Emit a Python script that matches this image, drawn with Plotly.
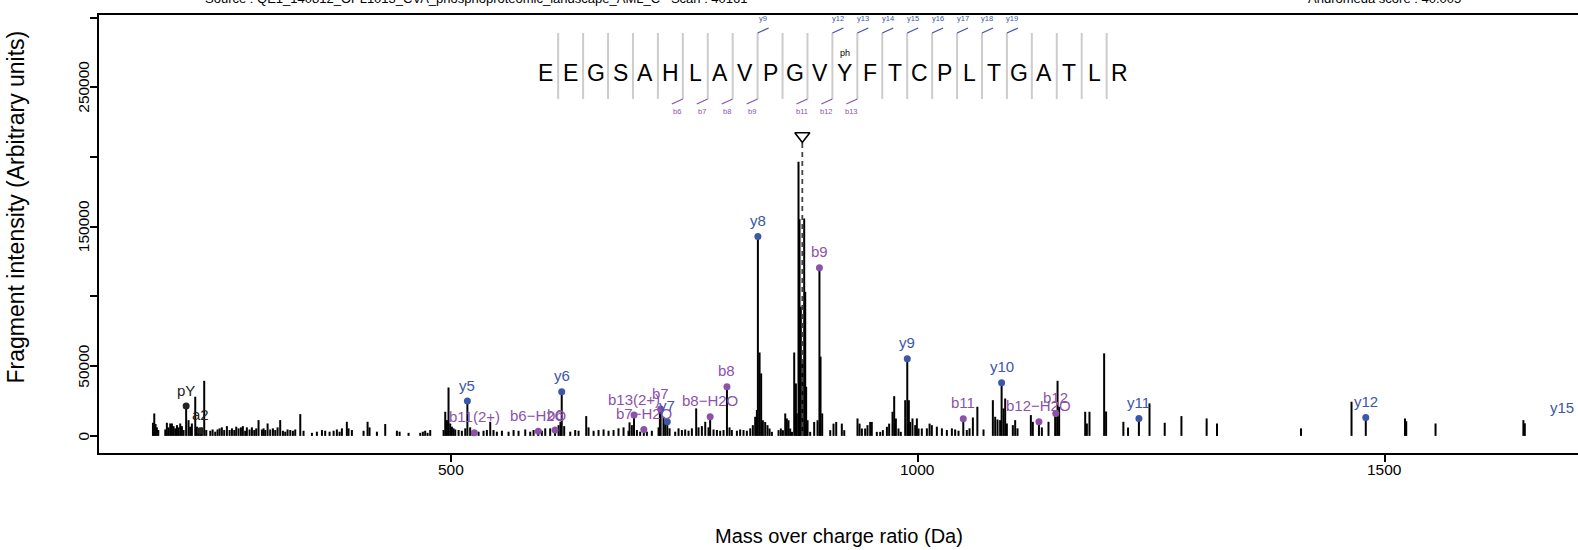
import plotly.graph_objects as go

# ------------------------------------------------------------------ data
MZ = [
    180.5, 181.9, 183.3, 184.7, 186.2, 193.7, 195.4, 197.2, 199.0, 200.8,
    202.6, 204.4, 206.2, 207.9, 209.7, 211.5, 213.3, 216.04, 218.6, 220.4,
    222.2, 225.8, 227.6, 229.4, 231.10, 232.9, 235.4, 237.6, 241.9, 244.4,
    247.2, 249.7, 251.9, 254.3, 256.8, 259.7, 262.6, 265.1, 267.6, 269.7,
    272.2, 274.7, 276.8, 279.3, 281.1, 284.0, 286.5, 289.0, 291.1, 293.6,
    297.2, 299.0, 300.8, 303.3, 306.1, 309.0, 311.5, 314.0, 316.8, 319.7,
    322.2, 324.7, 327.6, 330.4, 332.9, 338.3, 341.8, 350.8, 356.1, 361.5,
    365.0, 369.7, 374.0, 377.5, 380.4, 382.9, 388.2, 390.0, 393.6, 406.1,
    410.4, 412.5, 420.4, 429.3, 441.8, 444.7, 454.3, 466.8, 469.6, 472.1,
    474.7, 477.5, 491.8, 493.6, 495.4, 497.1, 498.9, 500.7, 502.5, 504.3,
    507.9, 511.4, 515.0, 517.31, 520.3, 523.0, 524.76, 529.3, 534.6, 538.2,
    541.8, 545.3, 548.9, 554.3, 561.4, 566.8, 572.1, 579.3, 584.6, 588.2,
    593.23, 597.1, 600.7, 606.0, 611.24, 615.0, 617.0, 618.36, 621.0, 627.5,
    632.8, 636.4, 644.6, 647.1, 652.5, 657.8, 663.2, 668.5, 673.9, 679.2,
    684.6, 689.9, 691.0, 693.5, 695.81, 698.9, 702.4, 706.31, 709.6, 714.9,
    722.1, 723.5, 724.33, 727.4, 729.2, 731.44, 733.9, 739.9, 743.5, 747.1,
    750.6, 754.2, 757.8, 762.4, 764.9, 768.5, 772.1, 775.6, 777.35, 781.0,
    784.6, 788.1, 791.7, 795.36, 798.1, 800.6, 806.0, 809.5, 813.1, 816.7,
    820.3, 823.1, 825.6, 827.4, 828.49, 830.3, 832.0, 833.8, 836.3, 838.8,
    841.0, 843.5, 850.6, 853.1, 855.3, 857.8, 859.5, 861.3, 863.1, 865.0,
    867.4, 869.2, 870.2, 872.0, 873.1, 874.5, 876.3, 878.1, 879.2, 880.2,
    881.7, 884.5, 888.8, 892.4, 894.43, 895.6, 897.4, 906.0, 909.5, 912.4,
    918.4, 921.0, 935.2, 937.4, 939.9, 943.4, 945.9, 948.8, 950.5, 955.9,
    959.5, 962.4, 966.7, 969.1, 972.7, 974.5, 976.3, 979.1, 981.6, 986.3,
    988.52, 990.2, 991.6, 994.1, 997.0, 998.8, 1000.6, 1004.1, 1009.5, 1012.4,
    1014.8, 1020.2, 1025.6, 1030.9, 1036.3, 1039.8, 1043.4, 1048.51, 1052.3, 1055.2,
    1058.8, 1063.6, 1070.2, 1080.2, 1082.7, 1085.2, 1088.0, 1089.57, 1091.6, 1093.4,
    1095.2, 1101.6, 1104.1, 1106.6, 1120.9, 1123.0, 1129.56, 1132.7, 1139.8, 1147.0,
    1147.57, 1149.5, 1151.2, 1179.1, 1180.9, 1183.7, 1199.4, 1201.5, 1220.0, 1225.0,
    1236.64, 1248.0, 1264.3, 1282.2, 1309.2, 1320.3, 1410.3, 1464.4, 1479.67, 1521.7,
    1523.0, 1554.4, 1648.5, 1650.0,
]
INTENSITY = [
    9400, 16100, 8500, 6100, 4200, 4600, 9400, 6100, 8900, 8900,
    7000, 5400, 7700, 6100, 8900, 7000, 4200, 21400, 11300, 6600,
    8900, 28100, 6600, 5400, 3700, 6100, 39500, 4200, 3700, 4600,
    3000, 4600, 5400, 6100, 4200, 7000, 4200, 5400, 4200, 6600,
    5400, 6100, 7000, 3700, 6100, 4600, 6100, 4200, 5400, 11300,
    4600, 5400, 4200, 8900, 4600, 5400, 4200, 6100, 11300, 3700,
    3000, 4600, 4200, 3700, 4600, 15600, 3700, 2200, 3000, 4200,
    3700, 3000, 3700, 4600, 3000, 5400, 10100, 5400, 4200, 3700,
    10100, 6100, 3000, 8500, 3700, 3000, 2200, 2200, 3000, 3700,
    2200, 4200, 4200, 17300, 11300, 34700, 8900, 6600, 5400, 4600,
    4200, 3700, 5400, 25000, 6100, 3000, 2200, 3000, 3700, 4200,
    10100, 4200, 3000, 3700, 3000, 4200, 3700, 4600, 3000, 4200,
    3400, 3700, 5400, 5400, 4200, 7700, 10100, 31600, 7000, 3000,
    4200, 3700, 14200, 6100, 3700, 4200, 4600, 3700, 4200, 5400,
    6100, 3700, 9700, 7700, 14900, 4200, 3000, 4600, 3000, 3700,
    6100, 20900, 19200, 13700, 10100, 10100, 5400, 3000, 5400, 4200,
    4600, 3700, 5400, 19700, 6100, 7000, 10100, 6100, 13700, 4600,
    4200, 3700, 4200, 35300, 6100, 4200, 3700, 4600, 4200, 3700,
    5400, 7700, 13700, 18500, 143000, 59800, 44800, 11200, 10000, 7700,
    5300, 2900, 4100, 5300, 4100, 16100, 12500, 11200, 5300, 2900,
    59800, 37600, 16100, 196600, 155400, 92600, 54400, 155900, 103300, 35200,
    11200, 2900, 10000, 11200, 120500, 56800, 16100, 4100, 8800, 10000,
    8800, 4100, 12500, 8800, 5300, 5300, 7700, 10000, 10000, 2900,
    2900, 4100, 6500, 8800, 17300, 28500, 12500, 5300, 2900, 25600,
    55300, 25600, 10000, 12500, 7700, 12500, 5300, 5300, 5400, 8800,
    7700, 6600, 5400, 4200, 5400, 4600, 3700, 12300, 4200, 5400,
    13200, 20900, 4600, 25600, 13700, 11800, 11300, 38100, 19700, 26800,
    8900, 7700, 11300, 5400, 14900, 10100, 10100, 6100, 10100, 14900,
    16100, 39500, 20900, 17300, 8900, 17300, 59200, 17500, 10100, 6000,
    12500, 23300, 9400, 14200, 12500, 8900, 5400, 24500, 13200, 12500,
    10500, 8900, 11300, 9000,
]

ION_LABELS = ["pY", "a2", "y5", "b11(2+)", "b6\u2212H2O", "b6", "y6", "b13(2+)",
              "b7\u2212H2O", "b7", "y7", "b8\u2212H2O", "b8", "y8", "b9", "y9",
              "b11", "y10", "b12\u2212H2O", "b12", "y11", "y12", "y15"]
ION_MZ = [216.04, 231.10, 517.31, 524.76, 593.23, 611.24, 618.36, 695.81,
          706.31, 724.33, 731.44, 777.35, 795.36, 828.49, 894.43, 988.52,
          1048.51, 1089.57, 1129.56, 1147.57, 1236.64, 1479.67, 1732.81]
ION_INTENSITY = [21400, 3700, 25000, 2200, 3400, 4200, 31600, 14900,
                 4600, 19200, 10100, 13700, 35300, 143000, 120500, 55300,
                 12300, 38100, 10100, 16100, 12500, 13200, 8750]
ION_SERIES = ["other", "other", "y", "b", "b", "b", "y", "b",
              "b", "b", "y", "b", "b", "y", "b", "y",
              "b", "y", "b", "b", "y", "y", "y"]

PRECURSOR_MZ = 876.08

SEQUENCE = list("EEGSAHLAVPGVYFTCPLTGATLR")
PTM_SITE = 13
PTM_LABEL = "ph"
Y_MARK_SITES = [9, 12, 13, 14, 15, 16, 17, 18, 19]
B_MARK_SITES = [6, 7, 8, 9, 11, 12, 13]

X_TICKS = [500, 1000, 1500]
X_TICK_LABELS = ["500", "1000", "1500"]
Y_TICKS = [0, 50000, 100000, 150000, 200000, 250000, 300000]
Y_TICK_LABELS = ["0", "50000", "", "150000", "", "250000", ""]

TITLE_LEFT = "Source : QE1_140812_OPL1013_CVA_phosphoproteomic_landscape_AML_C   Scan : 40161"
TITLE_RIGHT = "Andromeda score : 40.005"
X_TITLE = "Mass over charge ratio (Da)"
Y_TITLE = "Fragment intensity (Arbitrary units)"

# ------------------------------------------------------------------ layout
W, H = 1578, 550
ML, MR, MT, MB = 99, 0, 15, 97
X_RANGE = [122.7, 1707.0]
Y_RANGE = [-12270, 301800]
FONT = "Liberation Sans, Arial, Helvetica, sans-serif"
BLUE = "#3b57a8"
PURPLE = "#8c52aa"
SERIES_COLOR = {"y": BLUE, "b": PURPLE, "other": "#222222"}
TICK_FONT = 15.5

PW = W - ML - MR
PH = H - MT - MB


def px_to_x(px):
    return X_RANGE[0] + (px - ML) / PW * (X_RANGE[1] - X_RANGE[0])


def py_to_y(py):
    return Y_RANGE[1] - (py - MT) / PH * (Y_RANGE[1] - Y_RANGE[0])


def paper_x(px):
    return (px - ML) / PW


def paper_y(py):
    return (H - MB - py) / PH


fig = go.Figure()

# spectrum sticks
sx, sy = [], []
for m, i in zip(MZ, INTENSITY):
    sx += [m, m, None]
    sy += [0, i, None]
fig.add_trace(go.Scatter(x=sx, y=sy, mode="lines",
                         line=dict(color="black", width=2), hoverinfo="skip"))

# precursor marker
TRI_Y_PX = 136
fig.add_trace(go.Scatter(x=[PRECURSOR_MZ, PRECURSOR_MZ], y=[0, py_to_y(TRI_Y_PX + 6)],
                         mode="lines", line=dict(color="#444444", width=1.8, dash="5px,4px"),
                         hoverinfo="skip"))
fig.add_trace(go.Scatter(x=[PRECURSOR_MZ], y=[py_to_y(TRI_Y_PX)], mode="markers",
                         marker=dict(symbol="triangle-down-open", size=13,
                                     color="black", line=dict(width=1.6, color="black")),
                         hoverinfo="skip"))

# annotated ions: dots
fig.add_trace(go.Scatter(x=ION_MZ, y=ION_INTENSITY, mode="markers",
                         marker=dict(size=7, color=[SERIES_COLOR[s] for s in ION_SERIES]),
                         hoverinfo="skip"))

annotations = []
x_label_max = X_RANGE[1] - 16 / PW * (X_RANGE[1] - X_RANGE[0])
for lab, m, i, s in zip(ION_LABELS, ION_MZ, ION_INTENSITY, ION_SERIES):
    annotations.append(dict(x=min(m, x_label_max), y=i, xref="x", yref="y", text=lab,
                            showarrow=False, yshift=16, yanchor="middle", xanchor="center",
                            font=dict(size=15, color=SERIES_COLOR[s], family=FONT)))

# peptide sequence decoration
SEQ_X0_PX = 545.7
SEQ_STEP_PX = 24.93
LETTER_Y_PX = 72.5
SEP_TOP_PX, SEP_BOT_PX = 33, 99
TICK_DX, TICK_DY = 11, 5
shapes = []
for k, aa in enumerate(SEQUENCE):
    cx = SEQ_X0_PX + k * SEQ_STEP_PX
    annotations.append(dict(x=px_to_x(cx), y=py_to_y(LETTER_Y_PX), xref="x", yref="y",
                            text=aa, showarrow=False, xanchor="center", yanchor="middle",
                            font=dict(size=23, color="black", family=FONT)))
    if k + 1 == PTM_SITE:
        annotations.append(dict(x=px_to_x(cx), y=py_to_y(53), xref="x", yref="y",
                                text=PTM_LABEL, showarrow=False, xanchor="center",
                                yanchor="middle", font=dict(size=9, color="black", family=FONT)))
for k in range(1, len(SEQUENCE)):
    sxp = SEQ_X0_PX + (k - 0.5) * SEQ_STEP_PX
    shapes.append(dict(type="line", xref="x", yref="y",
                       x0=px_to_x(sxp), x1=px_to_x(sxp),
                       y0=py_to_y(SEP_TOP_PX), y1=py_to_y(SEP_BOT_PX),
                       line=dict(color="#cccccc", width=2)))
for site in Y_MARK_SITES:
    sxp = SEQ_X0_PX + (site - 0.5) * SEQ_STEP_PX
    shapes.append(dict(type="line", xref="x", yref="y",
                       x0=px_to_x(sxp), x1=px_to_x(sxp + TICK_DX),
                       y0=py_to_y(SEP_TOP_PX), y1=py_to_y(SEP_TOP_PX - TICK_DY),
                       line=dict(color=BLUE, width=1.3)))
    annotations.append(dict(x=px_to_x(sxp + TICK_DX / 2), y=py_to_y(18), xref="x", yref="y",
                            text="y%d" % site, showarrow=False, xanchor="center",
                            yanchor="middle", font=dict(size=7.5, color=BLUE, family=FONT)))
for site in B_MARK_SITES:
    sxp = SEQ_X0_PX + (site - 0.5) * SEQ_STEP_PX
    shapes.append(dict(type="line", xref="x", yref="y",
                       x0=px_to_x(sxp), x1=px_to_x(sxp - TICK_DX),
                       y0=py_to_y(SEP_BOT_PX), y1=py_to_y(SEP_BOT_PX + TICK_DY),
                       line=dict(color=PURPLE, width=1.3)))
    annotations.append(dict(x=px_to_x(sxp - TICK_DX / 2), y=py_to_y(111.5), xref="x", yref="y",
                            text="b%d" % site, showarrow=False, xanchor="center",
                            yanchor="middle", font=dict(size=7.5, color=PURPLE, family=FONT)))

# axis tick labels (placed like R's axis labels)
for t, lab in zip(X_TICKS, X_TICK_LABELS):
    annotations.append(dict(x=t, y=paper_y(469), xref="x", yref="paper", text=lab,
                            showarrow=False, xanchor="center", yanchor="middle",
                            font=dict(size=TICK_FONT, color="black", family=FONT)))
for t, lab in zip(Y_TICKS, Y_TICK_LABELS):
    if lab:
        annotations.append(dict(x=paper_x(83.5), y=t, xref="paper", yref="y", text=lab,
                                showarrow=False, xanchor="center", yanchor="middle",
                                textangle=-90,
                                font=dict(size=TICK_FONT, color="black", family=FONT)))

# titles (partly cut at the top of the page) and axis titles
annotations.append(dict(x=paper_x(476), y=paper_y(-1.5), xref="paper", yref="paper",
                        text=TITLE_LEFT, showarrow=False, xanchor="center", yanchor="middle",
                        font=dict(size=13, color="black", family=FONT)))
annotations.append(dict(x=paper_x(1384), y=paper_y(-1.5), xref="paper", yref="paper",
                        text=TITLE_RIGHT, showarrow=False, xanchor="center", yanchor="middle",
                        font=dict(size=13, color="black", family=FONT)))
annotations.append(dict(x=paper_x(839), y=paper_y(536), xref="paper", yref="paper",
                        text=X_TITLE, showarrow=False, xanchor="center", yanchor="middle",
                        font=dict(size=20, color="black", family=FONT)))
annotations.append(dict(x=paper_x(15.5), y=paper_y(207), xref="paper", yref="paper",
                        text=Y_TITLE, showarrow=False, xanchor="center", yanchor="middle",
                        textangle=-90, font=dict(size=23, color="black", family=FONT)))

fig.update_layout(
    width=W, height=H, margin=dict(l=ML, r=MR, t=MT, b=MB, autoexpand=False),
    plot_bgcolor="white", paper_bgcolor="white", showlegend=False,
    font=dict(family=FONT, color="black"),
    annotations=annotations, shapes=shapes,
    xaxis=dict(range=X_RANGE, showline=True, linecolor="black", linewidth=2, mirror=True,
               ticks="outside", ticklen=7, tickwidth=1.5, tickcolor="black",
               tickvals=X_TICKS, showticklabels=False,
               showgrid=False, zeroline=False, automargin=False),
    yaxis=dict(range=Y_RANGE, showline=True, linecolor="black", linewidth=2, mirror=False,
               ticks="outside", ticklen=7, tickwidth=1.5, tickcolor="black",
               tickvals=Y_TICKS, showticklabels=False,
               showgrid=False, zeroline=False, automargin=False),
)

fig.write_html("out.html", config={"displayModeBar": False},
               post_script="document.body.style.margin='0px';")
